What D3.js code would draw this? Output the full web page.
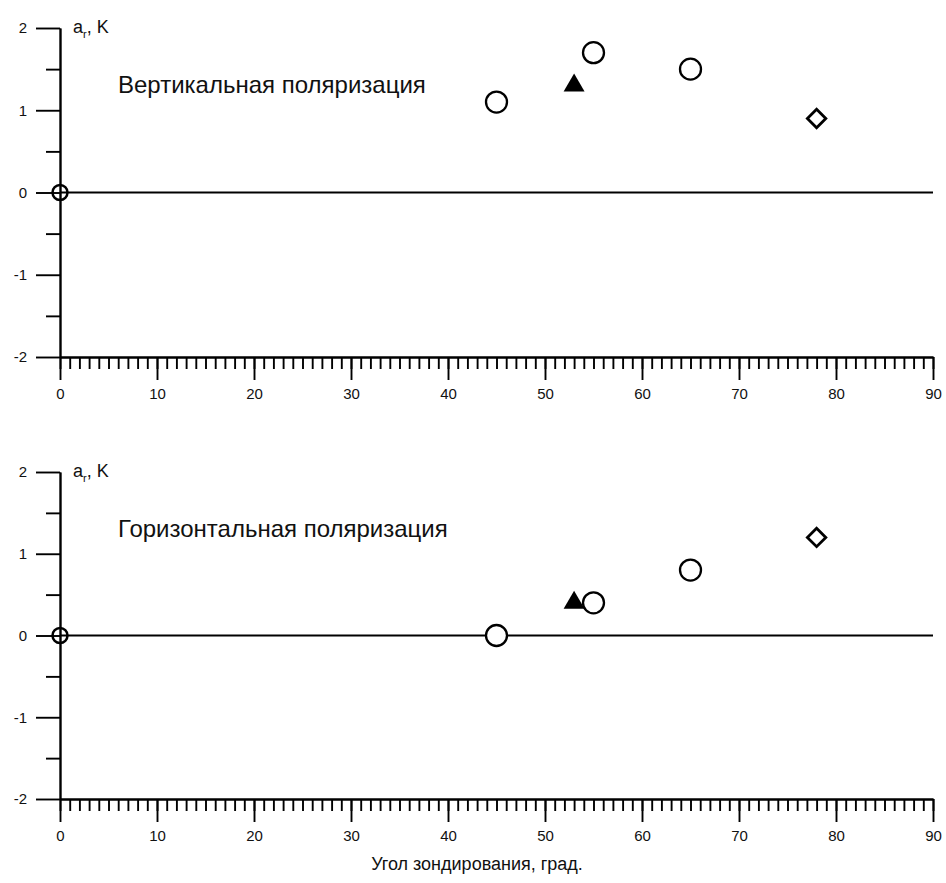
<!DOCTYPE html>
<html>
<head>
<meta charset="utf-8">
<title>Угол зондирования</title>
<script src="https://cdnjs.cloudflare.com/ajax/libs/d3/7.8.5/d3.min.js"></script>
<style>
    body, html {
        margin: 0;
        padding: 0;
        background: #fff;
    }
    svg text {
        font-family: "Liberation Sans", Arial, sans-serif;
        fill: #111;
    }
    .axis path, .axis line {
        stroke: #000;
        stroke-width: 1.9px;
    }
</style>
</head>
<body>
<div id="chart"></div>
<script>
    // значения
    var circleAngles = [45, 55, 65];
    var circleVert = [1.1, 1.7, 1.5];
    var circleHoriz = [0, 0.4, 0.8];

    var triangleAngles = [53];
    var triangleVert = [1.3];
    var triangleHoriz = [0.4];

    var diamondAngles = [78];
    var diamondVert = [0.9];
    var diamondHoriz = [1.2];

    var originAngles = [0];
    var originVert = [0];
    var originHoriz = [0];

    var yMajor = [-2, -1, 0, 1, 2];
    var yMinor = [-1.5, -0.5, 0.5, 1.5];
    var xMajor = d3.range(0, 91, 10);
    var xMinor = d3.range(0, 91, 1);

    var panels = [
        {title: 'Вертикальная поляризация', top: 28, bottom: 357,
         circles: circleVert, triangles: triangleVert, diamonds: diamondVert, origin: originVert},
        {title: 'Горизонтальная поляризация', top: 472, bottom: 799,
         circles: circleHoriz, triangles: triangleHoriz, diamonds: diamondHoriz, origin: originHoriz}
    ];

    var width = 946, height = 883;
    var svg = d3.select('#chart').append('svg')
        .attr('width', width)
        .attr('height', height);

    var x = d3.scaleLinear().domain([0, 90]).range([60, 933]);

    function zip(xs, ys) {
        return xs.map(function (a, i) { return [a, ys[i]]; });
    }

    panels.forEach(function (p) {
        var y = d3.scaleLinear().domain([-2, 2]).range([p.bottom, p.top]);
        var g = svg.append('g');

        // нулевая линия
        g.append('line')
            .attr('x1', x(0)).attr('x2', x(90))
            .attr('y1', y(0)).attr('y2', y(0))
            .attr('stroke', '#000')
            .attr('stroke-width', 1.9);

        // ось Y
        g.append('g')
            .attr('class', 'axis')
            .attr('transform', 'translate(' + x(0) + ',0)')
            .call(d3.axisLeft(y).tickValues(yMinor).tickSize(14).tickSizeOuter(0).tickFormat(''));
        var ya = g.append('g')
            .attr('class', 'axis')
            .attr('transform', 'translate(' + x(0) + ',0)')
            .call(d3.axisLeft(y).tickValues(yMajor).tickSize(24).tickSizeOuter(0).tickPadding(9)
                .tickFormat(function (d) { return String(d); }));
        ya.selectAll('text')
            .style('font-size', '15px')
            .style('font-family', '"Liberation Sans", Arial, sans-serif')
            .attr('fill', '#111');

        // ось X
        g.append('g')
            .attr('class', 'axis')
            .attr('transform', 'translate(0,' + y(-2) + ')')
            .call(d3.axisBottom(x).tickValues(xMinor).tickSize(12).tickSizeOuter(0).tickFormat(''));
        var xa = g.append('g')
            .attr('class', 'axis')
            .attr('transform', 'translate(0,' + y(-2) + ')')
            .call(d3.axisBottom(x).tickValues(xMajor).tickSize(23).tickSizeOuter(0).tickPadding(8));
        xa.selectAll('text')
            .style('font-size', '15px')
            .style('font-family', '"Liberation Sans", Arial, sans-serif')
            .attr('fill', '#111');

        // подпись оси Y
        var lab = g.append('text')
            .attr('x', 73)
            .attr('y', y(2) + 5)
            .style('font-size', '18px');
        lab.append('tspan').text('a');
        lab.append('tspan').attr('dy', 5).style('font-size', '11px').text('r');
        lab.append('tspan').attr('dy', -5).text(', K');

        g.append('text')
            .attr('x', 118)
            .attr('y', y(1) - 17)
            .style('font-size', '24px')
            .text(p.title);

        // маркеры
        g.selectAll('circle.pt')
            .data(zip(circleAngles, p.circles))
            .join('circle')
            .attr('class', 'pt')
            .attr('cx', function (d) { return x(d[0]); })
            .attr('cy', function (d) { return y(d[1]); })
            .attr('r', 10.5)
            .attr('fill', '#fff')
            .attr('stroke', '#000')
            .attr('stroke-width', 2.3);

        g.selectAll('path.tri')
            .data(zip(triangleAngles, p.triangles))
            .join('path')
            .attr('class', 'tri')
            .attr('d', d3.symbol().type(d3.symbolTriangle).size(190))
            .attr('transform', function (d) { return 'translate(' + x(d[0]) + ',' + y(d[1]) + ')'; })
            .attr('fill', '#000');

        g.selectAll('path.dia')
            .data(zip(diamondAngles, p.diamonds))
            .join('path')
            .attr('class', 'dia')
            .attr('d', d3.symbol().type(d3.symbolSquare).size(170))
            .attr('transform', function (d) { return 'translate(' + x(d[0]) + ',' + y(d[1]) + ') rotate(45)'; })
            .attr('fill', '#fff')
            .attr('stroke', '#000')
            .attr('stroke-width', 2.8);

        g.selectAll('circle.org')
            .data(zip(originAngles, p.origin))
            .join('circle')
            .attr('class', 'org')
            .attr('cx', function (d) { return x(d[0]); })
            .attr('cy', function (d) { return y(d[1]); })
            .attr('r', 7.5)
            .attr('fill', 'none')
            .attr('stroke', '#000')
            .attr('stroke-width', 2.5);
    });

    svg.append('text')
        .attr('x', 477)
        .attr('y', 870)
        .attr('text-anchor', 'middle')
        .style('font-size', '18px')
        .text('Угол зондирования, град.');
</script>
</body>
</html>
